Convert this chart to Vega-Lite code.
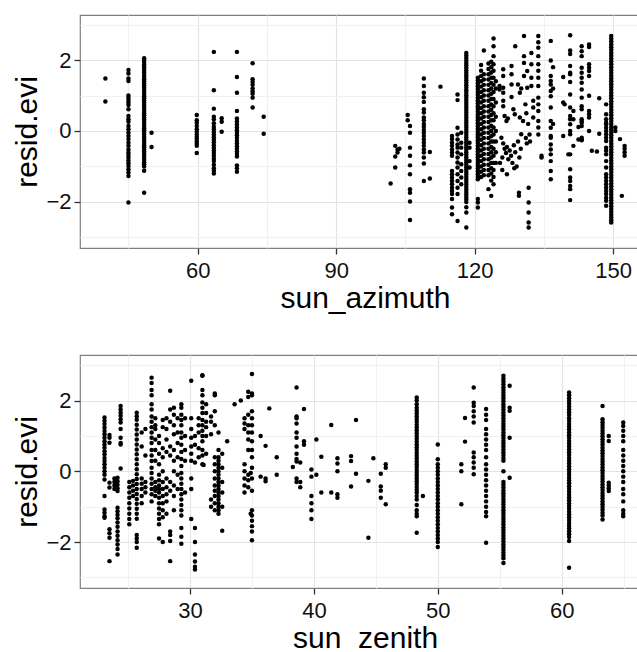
{
"$schema":"https://vega.github.io/schema/vega-lite/v6.json",
"padding":{"left":12,"top":14,"right":0,"bottom":0},
"background":"white",
"datasets":{
"top":[
{"az":40,"r":1.48},{"az":40,"r":0.83},
{"az":45,"r":1.72},{"az":45,"r":1.62},{"az":45,"r":1.48},{"az":45,"r":1.41},{"az":45,"r":1.0},{"az":45,"r":0.94},{"az":45,"r":0.87},{"az":45,"r":0.8},{"az":45,"r":0.73},{"az":45,"r":0.61},{"az":45,"r":0.42},{"az":45,"r":0.33},{"az":45,"r":0.26},{"az":45,"r":0.14},{"az":45,"r":0.05},{"az":45,"r":-0.05},{"az":45,"r":-0.14},{"az":45,"r":-0.23},{"az":45,"r":-0.33},{"az":45,"r":-0.42},{"az":45,"r":-0.52},{"az":45,"r":-0.61},{"az":45,"r":-0.68},{"az":45,"r":-0.75},{"az":45,"r":-0.83},{"az":45,"r":-0.91},{"az":45,"r":-0.99},{"az":45,"r":-1.08},{"az":45,"r":-1.17},{"az":45,"r":-1.27},{"az":45,"r":-2.02},
{"az":48.4,"r":2.05},{"az":48.4,"r":2.0},{"az":48.4,"r":1.95},{"az":48.4,"r":1.88},{"az":48.4,"r":1.82},{"az":48.4,"r":1.76},{"az":48.4,"r":1.7},{"az":48.4,"r":1.64},{"az":48.4,"r":1.58},{"az":48.4,"r":1.52},{"az":48.4,"r":1.46},{"az":48.4,"r":1.4},{"az":48.4,"r":1.34},{"az":48.4,"r":1.28},{"az":48.4,"r":1.22},{"az":48.4,"r":1.16},{"az":48.4,"r":1.1},{"az":48.4,"r":1.04},{"az":48.4,"r":0.98},{"az":48.4,"r":0.92},{"az":48.4,"r":0.86},{"az":48.4,"r":0.8},{"az":48.4,"r":0.74},{"az":48.4,"r":0.68},{"az":48.4,"r":0.62},{"az":48.4,"r":0.56},{"az":48.4,"r":0.5},{"az":48.4,"r":0.44},{"az":48.4,"r":0.38},{"az":48.4,"r":0.32},{"az":48.4,"r":0.26},{"az":48.4,"r":0.2},{"az":48.4,"r":0.14},{"az":48.4,"r":0.08},{"az":48.4,"r":0.02},{"az":48.4,"r":-0.04},{"az":48.4,"r":-0.1},{"az":48.4,"r":-0.16},{"az":48.4,"r":-0.22},{"az":48.4,"r":-0.28},{"az":48.4,"r":-0.34},{"az":48.4,"r":-0.4},{"az":48.4,"r":-0.46},{"az":48.4,"r":-0.52},{"az":48.4,"r":-0.58},{"az":48.4,"r":-0.64},{"az":48.4,"r":-0.7},{"az":48.4,"r":-0.76},{"az":48.4,"r":-0.82},{"az":48.4,"r":-0.88},{"az":48.4,"r":-0.94},{"az":48.4,"r":-1.0},{"az":48.4,"r":-1.12},{"az":48.4,"r":-1.74},
{"az":50,"r":-0.05},{"az":50,"r":-0.45},
{"az":59.8,"r":0.45},{"az":59.8,"r":0.3},{"az":59.8,"r":0.23},{"az":59.8,"r":0.14},{"az":59.8,"r":0.05},{"az":59.8,"r":-0.02},{"az":59.8,"r":-0.1},{"az":59.8,"r":-0.17},{"az":59.8,"r":-0.23},{"az":59.8,"r":-0.3},{"az":59.8,"r":-0.36},{"az":59.8,"r":-0.42},{"az":59.8,"r":-0.62},
{"az":63.5,"r":2.23},{"az":63.5,"r":1.15},{"az":63.5,"r":0.63},{"az":63.5,"r":0.4},{"az":63.5,"r":0.33},{"az":63.5,"r":0.22},{"az":63.5,"r":0.12},{"az":63.5,"r":0.05},{"az":63.5,"r":-0.03},{"az":63.5,"r":-0.1},{"az":63.5,"r":-0.18},{"az":63.5,"r":-0.25},{"az":63.5,"r":-0.32},{"az":63.5,"r":-0.4},{"az":63.5,"r":-0.48},{"az":63.5,"r":-0.55},{"az":63.5,"r":-0.62},{"az":63.5,"r":-0.7},{"az":63.5,"r":-0.78},{"az":63.5,"r":-0.85},{"az":63.5,"r":-0.95},{"az":63.5,"r":-1.05},{"az":63.5,"r":-1.12},{"az":63.5,"r":-1.2},
{"az":65.2,"r":0.36},{"az":65.2,"r":0.26},{"az":65.2,"r":-0.02},
{"az":68.5,"r":2.23},{"az":68.5,"r":1.52},{"az":68.5,"r":1.08},{"az":68.5,"r":0.56},{"az":68.5,"r":0.35},{"az":68.5,"r":0.27},{"az":68.5,"r":0.18},{"az":68.5,"r":0.1},{"az":68.5,"r":0.02},{"az":68.5,"r":-0.05},{"az":68.5,"r":-0.12},{"az":68.5,"r":-0.2},{"az":68.5,"r":-0.28},{"az":68.5,"r":-0.35},{"az":68.5,"r":-0.43},{"az":68.5,"r":-0.5},{"az":68.5,"r":-0.58},{"az":68.5,"r":-0.65},{"az":68.5,"r":-0.72},{"az":68.5,"r":-0.97},{"az":68.5,"r":-1.05},{"az":68.5,"r":-1.15},
{"az":71.9,"r":1.91},{"az":71.9,"r":1.46},{"az":71.9,"r":1.38},{"az":71.9,"r":1.3},{"az":71.9,"r":1.2},{"az":71.9,"r":1.12},{"az":71.9,"r":1.05},{"az":71.9,"r":0.94},{"az":71.9,"r":0.66},
{"az":74.3,"r":0.4},{"az":74.3,"r":-0.08},
{"az":101.8,"r":-1.48},
{"az":102.8,"r":-0.42},{"az":102.8,"r":-0.72},{"az":102.8,"r":-1.03},{"az":103.3,"r":-0.52},{"az":103.3,"r":-0.61},{"az":103.7,"r":-0.5},
{"az":105.5,"r":0.45},{"az":105.5,"r":0.3},
{"az":106,"r":0.14},{"az":106,"r":-0.05},{"az":106,"r":-0.47},{"az":106,"r":-0.7},{"az":106,"r":-0.97},{"az":106,"r":-1.22},{"az":106,"r":-1.64},{"az":106,"r":-1.74},{"az":106,"r":-1.99},{"az":106,"r":-2.51},
{"az":109,"r":1.48},{"az":109,"r":1.27},{"az":109,"r":1.08},{"az":109,"r":0.95},{"az":109,"r":0.82},{"az":109,"r":0.61},{"az":109,"r":0.52},{"az":109,"r":0.38},{"az":109,"r":0.3},{"az":109,"r":0.2},{"az":109,"r":0.12},{"az":109,"r":0.03},{"az":109,"r":-0.05},{"az":109,"r":-0.14},{"az":109,"r":-0.24},{"az":109,"r":-0.33},{"az":109,"r":-0.42},{"az":109,"r":-0.52},{"az":109,"r":-0.61},{"az":109,"r":-0.75},{"az":109,"r":-0.92},{"az":109,"r":-1.41},
{"az":110.3,"r":-0.59},{"az":110.3,"r":-1.34},
{"az":112.6,"r":1.25},
{"az":115.1,"r":-0.14},{"az":115.1,"r":-0.23},{"az":115.1,"r":-0.33},{"az":115.1,"r":-0.42},{"az":115.1,"r":-0.52},{"az":115.1,"r":-0.61},{"az":115.1,"r":-0.7},{"az":115.1,"r":-1.13},{"az":115.1,"r":-1.22},{"az":115.1,"r":-1.32},{"az":115.1,"r":-1.41},{"az":115.1,"r":-1.5},{"az":115.1,"r":-1.6},{"az":115.1,"r":-1.69},{"az":115.1,"r":-1.78},{"az":115.1,"r":-1.92},{"az":115.1,"r":-2.16},{"az":115.1,"r":-2.35},
{"az":116.3,"r":1.03},{"az":116.3,"r":0.87},{"az":116.3,"r":0.09},{"az":116.3,"r":-0.1},{"az":116.3,"r":-0.24},{"az":116.3,"r":-0.38},{"az":116.3,"r":-0.47},{"az":116.3,"r":-0.61},{"az":116.3,"r":-0.75},{"az":116.3,"r":-0.89},{"az":116.3,"r":-1.03},{"az":116.3,"r":-1.22},{"az":116.3,"r":-1.41},{"az":116.3,"r":-1.6},{"az":116.3,"r":-1.78},{"az":116.3,"r":-2.54},
{"az":117.1,"r":-0.05},{"az":117.1,"r":-0.33},{"az":117.1,"r":-0.47},{"az":117.1,"r":-0.66},{"az":117.1,"r":-0.94},{"az":117.1,"r":-1.13},{"az":117.1,"r":-1.31},{"az":117.1,"r":-1.5},
{"az":118.2,"r":2.2},{"az":118.2,"r":2.13},{"az":118.2,"r":2.06},{"az":118.2,"r":1.99},{"az":118.2,"r":1.92},{"az":118.2,"r":1.85},{"az":118.2,"r":1.78},{"az":118.2,"r":1.71},{"az":118.2,"r":1.64},{"az":118.2,"r":1.57},{"az":118.2,"r":1.5},{"az":118.2,"r":1.43},{"az":118.2,"r":1.36},{"az":118.2,"r":1.29},{"az":118.2,"r":1.22},{"az":118.2,"r":1.15},{"az":118.2,"r":1.08},{"az":118.2,"r":1.01},{"az":118.2,"r":0.94},{"az":118.2,"r":0.87},{"az":118.2,"r":0.8},{"az":118.2,"r":0.73},{"az":118.2,"r":0.66},{"az":118.2,"r":0.59},{"az":118.2,"r":0.52},{"az":118.2,"r":0.45},{"az":118.2,"r":0.38},{"az":118.2,"r":0.31},{"az":118.2,"r":0.24},{"az":118.2,"r":0.17},{"az":118.2,"r":0.1},{"az":118.2,"r":0.03},{"az":118.2,"r":-0.04},{"az":118.2,"r":-0.11},{"az":118.2,"r":-0.18},{"az":118.2,"r":-0.25},{"az":118.2,"r":-0.32},{"az":118.2,"r":-0.39},{"az":118.2,"r":-0.46},{"az":118.2,"r":-0.53},{"az":118.2,"r":-0.6},{"az":118.2,"r":-0.67},{"az":118.2,"r":-0.74},{"az":118.2,"r":-0.81},{"az":118.2,"r":-0.88},{"az":118.2,"r":-0.95},{"az":118.2,"r":-1.02},{"az":118.2,"r":-1.09},{"az":118.2,"r":-1.16},{"az":118.2,"r":-1.23},{"az":118.2,"r":-1.3},{"az":118.2,"r":-1.37},{"az":118.2,"r":-1.44},{"az":118.2,"r":-1.51},{"az":118.2,"r":-1.58},{"az":118.2,"r":-1.65},{"az":118.2,"r":-1.72},{"az":118.2,"r":-1.79},{"az":118.2,"r":-1.86},{"az":118.2,"r":-1.93},{"az":118.2,"r":-2.0},{"az":118.2,"r":-2.15},{"az":118.2,"r":-2.3},{"az":118.2,"r":-2.72},
{"az":118.9,"r":-0.33},{"az":118.9,"r":-0.47},{"az":118.9,"r":-0.85},{"az":118.9,"r":-1.03},
{"az":120.7,"r":1.5},{"az":120.7,"r":1.42},{"az":120.7,"r":1.34},{"az":120.7,"r":1.26},{"az":120.7,"r":1.18},{"az":120.7,"r":1.1},{"az":120.7,"r":1.02},{"az":120.7,"r":0.94},{"az":120.7,"r":0.86},{"az":120.7,"r":0.78},{"az":120.7,"r":0.7},{"az":120.7,"r":0.62},{"az":120.7,"r":0.54},{"az":120.7,"r":0.46},{"az":120.7,"r":0.38},{"az":120.7,"r":0.3},{"az":120.7,"r":0.22},{"az":120.7,"r":0.14},{"az":120.7,"r":0.06},{"az":120.7,"r":-0.02},{"az":120.7,"r":-0.1},{"az":120.7,"r":-0.18},{"az":120.7,"r":-0.26},{"az":120.7,"r":-0.34},{"az":120.7,"r":-0.42},{"az":120.7,"r":-0.5},{"az":120.7,"r":-0.58},{"az":120.7,"r":-0.66},{"az":120.7,"r":-0.74},{"az":120.7,"r":-0.82},{"az":120.7,"r":-0.9},{"az":120.7,"r":-0.98},{"az":120.7,"r":-1.06},{"az":120.7,"r":-1.14},{"az":120.7,"r":-1.22},{"az":120.7,"r":-1.3},{"az":120.7,"r":-1.36},{"az":120.7,"r":-1.92},{"az":120.7,"r":-2.02},{"az":120.7,"r":-2.16},
{"az":121.4,"r":1.86},{"az":121.4,"r":1.7},{"az":121.4,"r":1.55},{"az":121.4,"r":1.4},{"az":121.4,"r":1.25},{"az":121.4,"r":1.1},{"az":121.4,"r":0.95},{"az":121.4,"r":0.8},{"az":121.4,"r":0.65},{"az":121.4,"r":0.5},{"az":121.4,"r":0.35},{"az":121.4,"r":0.2},{"az":121.4,"r":0.05},{"az":121.4,"r":-0.1},{"az":121.4,"r":-0.25},{"az":121.4,"r":-0.4},{"az":121.4,"r":-0.55},{"az":121.4,"r":-0.7},{"az":121.4,"r":-0.85},{"az":121.4,"r":-1.0},{"az":121.4,"r":-1.15},{"az":121.4,"r":-1.3},
{"az":122,"r":2.27},{"az":122,"r":1.6},{"az":122,"r":1.45},{"az":122,"r":1.3},{"az":122,"r":1.15},{"az":122,"r":1.0},{"az":122,"r":0.85},{"az":122,"r":0.7},{"az":122,"r":0.55},{"az":122,"r":0.4},{"az":122,"r":0.25},{"az":122,"r":0.1},{"az":122,"r":-0.05},{"az":122,"r":-0.2},{"az":122,"r":-0.35},{"az":122,"r":-0.5},{"az":122,"r":-0.65},{"az":122,"r":-0.8},{"az":122,"r":-0.95},{"az":122,"r":-1.1},{"az":122,"r":-1.25},
{"az":123,"r":1.9},{"az":123,"r":1.75},{"az":123,"r":1.6},{"az":123,"r":1.45},{"az":123,"r":1.3},{"az":123,"r":1.15},{"az":123,"r":1.0},{"az":123,"r":0.85},{"az":123,"r":0.7},{"az":123,"r":0.55},{"az":123,"r":0.4},{"az":123,"r":0.25},{"az":123,"r":0.1},{"az":123,"r":-0.05},{"az":123,"r":-0.2},{"az":123,"r":-0.35},{"az":123,"r":-0.5},{"az":123,"r":-0.65},{"az":123,"r":-0.8},{"az":123,"r":-0.95},{"az":123,"r":-1.1},{"az":123,"r":-1.25},{"az":123,"r":-1.64},
{"az":123.6,"r":1.95},{"az":123.6,"r":1.8},{"az":123.6,"r":1.65},{"az":123.6,"r":1.5},{"az":123.6,"r":1.35},{"az":123.6,"r":1.2},{"az":123.6,"r":1.05},{"az":123.6,"r":0.9},{"az":123.6,"r":0.75},{"az":123.6,"r":0.6},{"az":123.6,"r":0.45},{"az":123.6,"r":0.3},{"az":123.6,"r":0.15},{"az":123.6,"r":0.0},{"az":123.6,"r":-0.15},{"az":123.6,"r":-0.3},{"az":123.6,"r":-0.45},{"az":123.6,"r":-0.6},{"az":123.6,"r":-0.75},{"az":123.6,"r":-0.9},{"az":123.6,"r":-1.05},{"az":123.6,"r":-1.2},{"az":123.6,"r":-1.4},{"az":123.6,"r":-1.83},
{"az":124.1,"r":2.61},{"az":124.1,"r":2.39},{"az":124.1,"r":2.11},{"az":124.1,"r":1.88},{"az":124.1,"r":1.7},{"az":124.1,"r":1.5},{"az":124.1,"r":1.3},{"az":124.1,"r":1.1},{"az":124.1,"r":0.9},{"az":124.1,"r":0.7},{"az":124.1,"r":0.5},{"az":124.1,"r":0.3},{"az":124.1,"r":0.1},{"az":124.1,"r":-0.1},{"az":124.1,"r":-0.3},{"az":124.1,"r":-0.5},{"az":124.1,"r":-0.7},{"az":124.1,"r":-0.9},{"az":124.1,"r":-1.1},{"az":124.1,"r":-1.3},{"az":124.1,"r":-1.5},
{"az":124.6,"r":1.4},{"az":124.6,"r":1.2},{"az":124.6,"r":0.8},{"az":124.6,"r":0.4},{"az":124.6,"r":0.0},{"az":124.6,"r":-0.3},{"az":124.6,"r":-0.6},{"az":124.6,"r":-0.9},
{"az":125.4,"r":1.27},{"az":125.4,"r":1.17},{"az":126.2,"r":1.74},{"az":126.2,"r":1.55},{"az":126.2,"r":1.22},{"az":126.2,"r":1.08},{"az":126.2,"r":0.85},{"az":126.2,"r":0.7},{"az":126.5,"r":0.42},{"az":126.9,"r":0.28},{"az":127.2,"r":0.35},
{"az":128,"r":1.83},{"az":128,"r":1.6},{"az":128,"r":1.31},{"az":128,"r":0.96},{"az":128.8,"r":2.39},{"az":128.4,"r":0.61},{"az":128.7,"r":0.47},{"az":129.4,"r":1.31},{"az":129.8,"r":1.08},{"az":130.1,"r":1.2},{"az":129.8,"r":0.38},{"az":130.5,"r":0.28},
{"az":130.7,"r":2.68},{"az":130.7,"r":2.11},{"az":130.7,"r":1.92},{"az":130.7,"r":1.55},{"az":131.4,"r":1.69},{"az":131.4,"r":1.22},{"az":131,"r":0.75},{"az":131.2,"r":0.5},{"az":131.6,"r":0.2},{"az":131.9,"r":-0.1},
{"az":132.3,"r":2.2},{"az":132.3,"r":1.88},{"az":132.3,"r":1.5},{"az":132.3,"r":1.27},{"az":132.7,"r":0.85},{"az":132.7,"r":0.66},{"az":132.7,"r":0.38},
{"az":133.8,"r":2.68},{"az":133.8,"r":2.5},{"az":133.8,"r":2.35},{"az":133.8,"r":2.11},{"az":133.8,"r":1.88},{"az":133.8,"r":1.7},{"az":133.8,"r":1.5},{"az":133.8,"r":1.27},{"az":133.8,"r":0.94},{"az":133.8,"r":0.75},{"az":133.8,"r":0.56},{"az":133.8,"r":0.28},{"az":133.8,"r":0.1},{"az":133.8,"r":-0.1},
{"az":125.8,"r":-0.19},{"az":126.2,"r":-0.35},{"az":126.5,"r":-0.5},{"az":126.8,"r":-0.62},{"az":127,"r":-0.45},{"az":127.3,"r":-0.8},{"az":127.6,"r":-0.55},{"az":127.9,"r":-0.7},{"az":128.2,"r":-0.9},{"az":128.5,"r":-0.4},{"az":128.8,"r":-0.6},{"az":129.1,"r":-1.0},{"az":129.4,"r":-0.3},{"az":129.7,"r":-0.75},{"az":130,"r":-0.5},{"az":126,"r":-1.1},{"az":127,"r":-1.22},{"az":128.6,"r":-1.05},{"az":125.5,"r":-0.9},{"az":126,"r":-0.75},
{"az":129.6,"r":-1.74},{"az":129.6,"r":-1.83},{"az":131.7,"r":-1.6},{"az":131.7,"r":-2.02},{"az":131.7,"r":-2.3},{"az":131.7,"r":-2.58},{"az":131.7,"r":-2.72},
{"az":130.1,"r":-0.09},{"az":131.1,"r":-0.2},{"az":131.3,"r":-0.35},{"az":132,"r":-0.3},{"az":134.5,"r":-0.7},{"az":134.5,"r":-0.75},
{"az":136.5,"r":2.54},{"az":136.5,"r":1.99},{"az":136.5,"r":1.55},{"az":136.5,"r":1.41},{"az":136.5,"r":1.31},{"az":136.5,"r":1.13},{"az":136.5,"r":0.98},{"az":136.5,"r":0.66},{"az":136.5,"r":0.28},{"az":136.5,"r":0.09},{"az":136.5,"r":-0.14},{"az":136.5,"r":-0.19},{"az":136.5,"r":-0.38},{"az":136.5,"r":-0.52},{"az":136.5,"r":-0.66},{"az":136.5,"r":-0.85},{"az":136.5,"r":-1.13},{"az":136.5,"r":-1.36},
{"az":137,"r":1.8},{"az":137,"r":1.2},{"az":137,"r":0.2},
{"az":139.2,"r":1.52},{"az":139.2,"r":0.8},{"az":139.5,"r":0.75},{"az":139.2,"r":-0.14},
{"az":140.7,"r":2.7},{"az":140.7,"r":2.27},{"az":140.7,"r":2.17},{"az":140.7,"r":1.83},{"az":140.7,"r":1.64},{"az":140.7,"r":1.6},{"az":140.7,"r":1.38},{"az":140.7,"r":1.03},{"az":140.7,"r":0.66},{"az":140.7,"r":0.42},{"az":140.7,"r":0.33},{"az":140.7,"r":0.19},{"az":140.7,"r":0.0},{"az":140.7,"r":-0.09},{"az":140.7,"r":-0.66},{"az":140.7,"r":-1.08},{"az":140.7,"r":-1.31},{"az":140.7,"r":-1.41},{"az":140.7,"r":-1.55},{"az":140.7,"r":-1.64},{"az":140.7,"r":-1.95},
{"az":141.4,"r":0.56},{"az":141.4,"r":0.33},{"az":141.4,"r":-0.42},{"az":140.3,"r":-0.66},
{"az":143.2,"r":2.39},{"az":143.2,"r":2.25},{"az":143.2,"r":2.11},{"az":143.2,"r":1.78},{"az":143.2,"r":1.64},{"az":143.2,"r":1.5},{"az":143.2,"r":1.36},{"az":143.2,"r":1.17},{"az":143.2,"r":0.94},{"az":143.2,"r":0.7},{"az":143.2,"r":0.61},{"az":143.2,"r":0.33},{"az":143.2,"r":0.28},{"az":143.2,"r":0.23},{"az":143.2,"r":0.14},{"az":143.2,"r":-0.19},{"az":143.2,"r":-0.24},{"az":143.2,"r":-0.26},
{"az":142.5,"r":0.11},{"az":142.5,"r":-0.24},
{"az":144.8,"r":2.44},{"az":144.8,"r":2.37},{"az":144.8,"r":1.88},{"az":144.8,"r":1.78},{"az":144.8,"r":1.69},{"az":144.8,"r":1.55},{"az":144.8,"r":0.99},{"az":144.8,"r":0.56},{"az":144.8,"r":0.47},{"az":144.8,"r":0.38},{"az":144.8,"r":0.0},
{"az":145.4,"r":-0.56},{"az":146.5,"r":-0.58},{"az":147,"r":0.92},{"az":147,"r":-0.08},
{"az":148.5,"r":0.75},{"az":148.5,"r":0.47},{"az":148.5,"r":0.33},{"az":148.5,"r":0.23},{"az":148.5,"r":0.19},{"az":148.5,"r":0.09},{"az":148.5,"r":0.0},{"az":148.5,"r":-0.09},{"az":148.5,"r":-0.19},{"az":148.5,"r":-0.28},{"az":148.5,"r":-0.47},{"az":148.5,"r":-0.56},{"az":148.5,"r":-0.66},{"az":148.5,"r":-0.85},{"az":148.5,"r":-1.03},{"az":148.5,"r":-1.22},{"az":148.5,"r":-1.31},{"az":148.5,"r":-1.41},{"az":148.5,"r":-1.5},{"az":148.5,"r":-1.6},{"az":148.5,"r":-1.69},{"az":148.5,"r":-1.78},{"az":148.5,"r":-1.88},{"az":148.5,"r":-1.97},{"az":148.5,"r":-2.11},
{"az":149.6,"r":2.68},{"az":149.6,"r":2.6},{"az":149.6,"r":2.52},{"az":149.6,"r":2.44},{"az":149.6,"r":2.36},{"az":149.6,"r":2.28},{"az":149.6,"r":2.2},{"az":149.6,"r":2.12},{"az":149.6,"r":2.04},{"az":149.6,"r":1.96},{"az":149.6,"r":1.88},{"az":149.6,"r":1.8},{"az":149.6,"r":1.72},{"az":149.6,"r":1.64},{"az":149.6,"r":1.56},{"az":149.6,"r":1.48},{"az":149.6,"r":1.4},{"az":149.6,"r":1.32},{"az":149.6,"r":1.24},{"az":149.6,"r":1.16},{"az":149.6,"r":1.08},{"az":149.6,"r":1.0},{"az":149.6,"r":0.92},{"az":149.6,"r":0.84},{"az":149.6,"r":0.76},{"az":149.6,"r":0.68},{"az":149.6,"r":0.6},{"az":149.6,"r":0.52},{"az":149.6,"r":0.44},{"az":149.6,"r":0.36},{"az":149.6,"r":0.28},{"az":149.6,"r":0.2},{"az":149.6,"r":0.12},{"az":149.6,"r":0.04},{"az":149.6,"r":-0.04},{"az":149.6,"r":-0.12},{"az":149.6,"r":-0.2},{"az":149.6,"r":-0.28},{"az":149.6,"r":-0.36},{"az":149.6,"r":-0.44},{"az":149.6,"r":-0.52},{"az":149.6,"r":-0.6},{"az":149.6,"r":-0.68},{"az":149.6,"r":-0.76},{"az":149.6,"r":-0.84},{"az":149.6,"r":-0.92},{"az":149.6,"r":-1.0},{"az":149.6,"r":-1.08},{"az":149.6,"r":-1.16},{"az":149.6,"r":-1.24},{"az":149.6,"r":-1.32},{"az":149.6,"r":-1.4},{"az":149.6,"r":-1.48},{"az":149.6,"r":-1.56},{"az":149.6,"r":-1.64},{"az":149.6,"r":-1.72},{"az":149.6,"r":-1.8},{"az":149.6,"r":-1.88},{"az":149.6,"r":-1.96},{"az":149.6,"r":-2.04},{"az":149.6,"r":-2.12},{"az":149.6,"r":-2.2},{"az":149.6,"r":-2.28},{"az":149.6,"r":-2.36},{"az":149.6,"r":-2.44},{"az":149.6,"r":-2.52},{"az":149.6,"r":-2.58},
{"az":150.5,"r":0.1},{"az":150.5,"r":0.0},{"az":151.5,"r":-0.23},{"az":152.5,"r":-0.42},{"az":152.5,"r":-0.5},{"az":152.5,"r":-0.6},{"az":152.5,"r":-0.7},{"az":151.9,"r":-1.83}
],
"bot":[
{"zen":23.1,"r":1.52},{"zen":23.1,"r":1.43},{"zen":23.1,"r":1.34},{"zen":23.1,"r":1.24},{"zen":23.1,"r":1.14},{"zen":23.1,"r":1.05},{"zen":23.1,"r":0.95},{"zen":23.1,"r":0.85},{"zen":23.1,"r":0.76},{"zen":23.1,"r":0.67},{"zen":23.1,"r":0.57},{"zen":23.1,"r":0.48},{"zen":23.1,"r":0.38},{"zen":23.1,"r":0.29},{"zen":23.1,"r":0.2},{"zen":23.1,"r":0.1},{"zen":23.1,"r":0.0},{"zen":23.1,"r":-0.1},{"zen":23.1,"r":-0.23},{"zen":23.1,"r":-0.7},{"zen":23.1,"r":-1.08},{"zen":23.1,"r":-1.17},{"zen":23.1,"r":-1.27},{"zen":23.1,"r":-1.31},
{"zen":23.5,"r":1.03},{"zen":23.5,"r":0.95},{"zen":23.5,"r":0.81},{"zen":23.5,"r":-0.32},{"zen":23.5,"r":-0.46},{"zen":23.5,"r":-1.64},{"zen":23.5,"r":-1.75},{"zen":23.5,"r":-1.88},{"zen":23.5,"r":-2.54},
{"zen":23.9,"r":-0.2},{"zen":23.9,"r":-0.3},{"zen":23.9,"r":-0.4},{"zen":23.9,"r":-0.5},
{"zen":24.15,"r":-0.18},{"zen":24.15,"r":-0.28},{"zen":24.15,"r":-0.38},{"zen":24.15,"r":-0.48},{"zen":24.15,"r":-0.56},{"zen":24.15,"r":-1.03},{"zen":24.15,"r":-1.13},{"zen":24.15,"r":-1.23},{"zen":24.15,"r":-1.33},{"zen":24.15,"r":-1.45},{"zen":24.15,"r":-1.57},{"zen":24.15,"r":-1.7},{"zen":24.15,"r":-1.82},{"zen":24.15,"r":-1.95},{"zen":24.15,"r":-2.07},{"zen":24.15,"r":-2.2},{"zen":24.15,"r":-2.35},
{"zen":24.4,"r":1.85},{"zen":24.4,"r":1.75},{"zen":24.4,"r":1.66},{"zen":24.4,"r":1.57},{"zen":24.4,"r":1.47},{"zen":24.4,"r":1.38},{"zen":24.4,"r":1.2},{"zen":24.4,"r":0.95},{"zen":24.4,"r":0.8},{"zen":24.4,"r":0.76},{"zen":24.4,"r":0.08},
{"zen":25.1,"r":-0.3},{"zen":25.1,"r":-0.45},{"zen":25.1,"r":-0.6},{"zen":25.1,"r":-0.75},{"zen":25.1,"r":-0.9},{"zen":25.1,"r":-1.05},{"zen":25.1,"r":-1.2},{"zen":25.1,"r":-1.35},{"zen":25.1,"r":-1.5},
{"zen":25.4,"r":-0.27},{"zen":25.4,"r":-0.4},{"zen":25.4,"r":-0.55},{"zen":25.4,"r":-0.7},
{"zen":25.7,"r":1.66},{"zen":25.7,"r":1.56},{"zen":25.7,"r":1.46},{"zen":25.7,"r":1.32},{"zen":25.7,"r":1.18},{"zen":25.7,"r":1.04},{"zen":25.7,"r":0.9},{"zen":25.7,"r":0.76},{"zen":25.7,"r":0.62},{"zen":25.7,"r":0.48},{"zen":25.7,"r":0.34},{"zen":25.7,"r":0.2},{"zen":25.7,"r":0.06},{"zen":25.7,"r":-0.08},{"zen":25.7,"r":-0.22},{"zen":25.7,"r":-0.36},{"zen":25.7,"r":-0.5},{"zen":25.7,"r":-0.64},{"zen":25.7,"r":-0.78},{"zen":25.7,"r":-0.92},{"zen":25.7,"r":-1.06},{"zen":25.7,"r":-1.2},{"zen":25.7,"r":-1.34},{"zen":25.7,"r":-1.8},{"zen":25.7,"r":-1.9},{"zen":25.7,"r":-2.0},{"zen":25.7,"r":-2.16},
{"zen":26.1,"r":1.1},{"zen":26.1,"r":0.7},{"zen":26.1,"r":-0.2},{"zen":26.1,"r":-0.35},{"zen":26.1,"r":-0.5},{"zen":26.1,"r":-0.7},{"zen":26.1,"r":-0.9},
{"zen":26.4,"r":1.2},{"zen":26.4,"r":0.45},{"zen":26.4,"r":-0.3},{"zen":26.4,"r":-0.45},{"zen":26.4,"r":-0.6},
{"zen":26.9,"r":2.65},{"zen":26.9,"r":2.5},{"zen":26.9,"r":2.3},{"zen":26.9,"r":2.15},{"zen":26.9,"r":1.9},{"zen":26.9,"r":1.75},{"zen":26.9,"r":1.55},{"zen":26.9,"r":1.4},{"zen":26.9,"r":1.25},{"zen":26.9,"r":1.1},{"zen":26.9,"r":0.95},{"zen":26.9,"r":0.8},{"zen":26.9,"r":0.6},{"zen":26.9,"r":0.45},{"zen":26.9,"r":0.29},{"zen":26.9,"r":0.1},{"zen":26.9,"r":-0.05},{"zen":26.9,"r":-0.2},{"zen":26.9,"r":-0.35},{"zen":26.9,"r":-0.5},{"zen":26.9,"r":-0.65},{"zen":26.9,"r":-0.85},
{"zen":27.2,"r":1.5},{"zen":27.2,"r":1.3},{"zen":27.2,"r":1.2},{"zen":27.2,"r":0.9},{"zen":27.2,"r":0.6},{"zen":27.2,"r":0.3},{"zen":27.2,"r":-0.3},{"zen":27.2,"r":-0.45},{"zen":27.2,"r":-0.55},{"zen":27.2,"r":-0.7},
{"zen":27.5,"r":1.0},{"zen":27.5,"r":0.8},{"zen":27.5,"r":0.5},{"zen":27.5,"r":0.2},{"zen":27.5,"r":-0.1},{"zen":27.5,"r":-0.25},{"zen":27.5,"r":-0.4},{"zen":27.5,"r":-0.5},{"zen":27.5,"r":-0.6},{"zen":27.5,"r":-0.75},{"zen":27.5,"r":-0.9},{"zen":27.5,"r":-1.05},{"zen":27.5,"r":-1.2},{"zen":27.5,"r":-1.35},{"zen":27.5,"r":-1.5},{"zen":27.5,"r":-1.9},
{"zen":27.8,"r":1.45},{"zen":27.8,"r":1.25},{"zen":27.8,"r":0.65},{"zen":27.8,"r":0.4},{"zen":27.8,"r":0.0},{"zen":27.8,"r":-0.3},{"zen":27.8,"r":-0.5},{"zen":27.8,"r":-0.7},{"zen":27.8,"r":-0.9},{"zen":27.8,"r":-1.1},{"zen":27.8,"r":-1.3},{"zen":27.8,"r":-2.0},
{"zen":28.1,"r":1.5},{"zen":28.1,"r":1.2},{"zen":28.1,"r":0.9},{"zen":28.1,"r":0.55},{"zen":28.1,"r":-0.2},{"zen":28.1,"r":-0.45},{"zen":28.1,"r":-0.65},{"zen":28.1,"r":-0.85},{"zen":28.1,"r":-1.2},
{"zen":28.4,"r":2.28},{"zen":28.4,"r":1.75},{"zen":28.4,"r":1.4},{"zen":28.4,"r":0.7},{"zen":28.4,"r":0.45},{"zen":28.4,"r":-0.3},{"zen":28.4,"r":-0.55},{"zen":28.4,"r":-1.7},{"zen":28.4,"r":-1.8},{"zen":28.4,"r":-1.97},{"zen":28.4,"r":-2.54},
{"zen":28.7,"r":1.8},{"zen":28.7,"r":1.6},{"zen":28.7,"r":1.3},{"zen":28.7,"r":1.05},{"zen":28.7,"r":0.6},{"zen":28.7,"r":0.3},{"zen":28.7,"r":0.0},{"zen":28.7,"r":-0.4},{"zen":28.7,"r":-0.7},{"zen":28.7,"r":-1.1},
{"zen":29,"r":1.5},{"zen":29,"r":1.1},{"zen":29,"r":0.8},{"zen":29,"r":0.4},{"zen":29,"r":-0.1},{"zen":29,"r":-0.5},
{"zen":29.3,"r":1.9},{"zen":29.3,"r":1.8},{"zen":29.3,"r":1.6},{"zen":29.3,"r":1.45},{"zen":29.3,"r":1.3},{"zen":29.3,"r":1.1},{"zen":29.3,"r":0.95},{"zen":29.3,"r":0.75},{"zen":29.3,"r":0.55},{"zen":29.3,"r":0.35},{"zen":29.3,"r":0.15},{"zen":29.3,"r":-0.05},{"zen":29.3,"r":-0.2},{"zen":29.3,"r":-0.35},{"zen":29.3,"r":-0.5},{"zen":29.3,"r":-0.65},{"zen":29.3,"r":-0.8},{"zen":29.3,"r":-0.95},{"zen":29.3,"r":-1.1},{"zen":29.3,"r":-1.25},{"zen":29.3,"r":-1.6},{"zen":29.3,"r":-1.85},{"zen":29.3,"r":-2.05},
{"zen":29.6,"r":1.5},{"zen":29.6,"r":1.0},{"zen":29.6,"r":0.6},{"zen":29.6,"r":0.3},{"zen":29.6,"r":-0.6},
{"zen":30.1,"r":2.56},{"zen":30.1,"r":1.5},{"zen":30.1,"r":1.2},{"zen":30.1,"r":0.95},{"zen":30.1,"r":0.7},{"zen":30.1,"r":0.5},{"zen":30.1,"r":0.3},{"zen":30.1,"r":-0.2},{"zen":30.1,"r":-0.5},{"zen":30.1,"r":-1.35},
{"zen":30.4,"r":1.0},{"zen":30.4,"r":0.75},{"zen":30.4,"r":0.25},{"zen":30.4,"r":-1.6},{"zen":30.4,"r":-2.0},{"zen":30.4,"r":-2.35},{"zen":30.4,"r":-2.55},{"zen":30.4,"r":-2.7},{"zen":30.4,"r":-2.78},
{"zen":30.7,"r":1.5},{"zen":30.7,"r":1.3},{"zen":30.7,"r":1.1},{"zen":30.7,"r":0.65},{"zen":30.7,"r":0.4},
{"zen":31,"r":2.72},{"zen":31,"r":2.7},{"zen":31,"r":2.3},{"zen":31,"r":2.15},{"zen":31,"r":1.95},{"zen":31,"r":1.8},{"zen":31,"r":1.65},{"zen":31,"r":1.45},{"zen":31,"r":1.3},{"zen":31,"r":1.15},{"zen":31,"r":1.0},{"zen":31,"r":0.85},{"zen":31,"r":0.6},{"zen":31,"r":0.45},{"zen":31,"r":0.2},{"zen":31.1,"r":0.18},
{"zen":31.3,"r":1.9},{"zen":31.3,"r":1.65},{"zen":31.3,"r":1.4},{"zen":31.3,"r":1.25},{"zen":31.3,"r":1.0},{"zen":31.3,"r":0.5},
{"zen":31.7,"r":1.55},{"zen":31.7,"r":1.4},{"zen":31.7,"r":1.05},{"zen":31.7,"r":-0.8},{"zen":31.7,"r":-1.0},
{"zen":32,"r":2.2},{"zen":32,"r":2.15},{"zen":32,"r":1.7},{"zen":32,"r":1.3},{"zen":32,"r":0.4},{"zen":32,"r":0.2},{"zen":32,"r":0.0},{"zen":32,"r":-0.2},{"zen":32,"r":-0.4},{"zen":32,"r":-0.55},{"zen":32,"r":-0.7},{"zen":32,"r":-0.9},{"zen":32,"r":-1.1},
{"zen":32.3,"r":1.1},{"zen":32.3,"r":0.6},{"zen":32.3,"r":0.4},{"zen":32.3,"r":0.3},{"zen":32.3,"r":0.2},{"zen":32.3,"r":0.1},{"zen":32.3,"r":0.0},{"zen":32.3,"r":-0.1},{"zen":32.3,"r":-0.2},{"zen":32.3,"r":-0.3},{"zen":32.3,"r":-0.4},{"zen":32.3,"r":-0.5},{"zen":32.3,"r":-0.6},{"zen":32.3,"r":-0.7},{"zen":32.3,"r":-0.8},{"zen":32.3,"r":-0.9},{"zen":32.3,"r":-1.0},{"zen":32.3,"r":-1.1},{"zen":32.3,"r":-1.2},
{"zen":32.6,"r":0.5},{"zen":32.6,"r":0.1},{"zen":32.6,"r":-0.3},{"zen":32.6,"r":-0.6},{"zen":32.6,"r":-1.0},{"zen":32.6,"r":-1.68},
{"zen":33,"r":0.85},{"zen":33.6,"r":1.9},{"zen":34.1,"r":2.0},
{"zen":34.4,"r":1.5},{"zen":34.4,"r":1.35},{"zen":34.4,"r":1.2},{"zen":34.4,"r":0.2},{"zen":34.4,"r":0.0},{"zen":34.4,"r":-0.2},{"zen":34.4,"r":-0.4},{"zen":34.4,"r":-0.6},
{"zen":34.7,"r":2.25},{"zen":34.7,"r":2.1},{"zen":34.7,"r":1.6},{"zen":34.7,"r":1.3},{"zen":34.7,"r":1.1},{"zen":34.7,"r":0.9},{"zen":34.7,"r":0.6},{"zen":34.7,"r":-0.1},{"zen":34.7,"r":-0.25},{"zen":34.7,"r":-0.45},
{"zen":35,"r":2.75},{"zen":35,"r":2.2},{"zen":35,"r":2.15},{"zen":35,"r":1.7},{"zen":35,"r":1.5},{"zen":35,"r":1.3},{"zen":35,"r":1.1},{"zen":35,"r":0.85},{"zen":35,"r":0.6},{"zen":35,"r":0.4},{"zen":35,"r":0.1},{"zen":35,"r":-0.2},{"zen":35,"r":-0.55},{"zen":35,"r":-1.1},{"zen":35,"r":-1.25},{"zen":35,"r":-1.4},{"zen":35,"r":-1.55},{"zen":35,"r":-1.7},{"zen":35,"r":-1.95},
{"zen":34.9,"r":-1.2},{"zen":34.9,"r":-0.05},
{"zen":35.7,"r":1.0},{"zen":35.7,"r":-0.15},{"zen":36.1,"r":0.72},{"zen":36.1,"r":-0.2},{"zen":36.1,"r":-0.28},{"zen":36.4,"r":1.78},{"zen":37,"r":0.4},{"zen":37,"r":-0.1},{"zen":38.3,"r":0.12},
{"zen":38.6,"r":2.37},{"zen":38.6,"r":1.55},{"zen":38.6,"r":1.5},{"zen":38.6,"r":1.35},{"zen":38.6,"r":1.1},{"zen":38.6,"r":0.95},{"zen":38.6,"r":0.7},{"zen":38.6,"r":0.5},{"zen":38.6,"r":0.35},{"zen":38.6,"r":0.28},{"zen":38.6,"r":-0.2},{"zen":38.6,"r":-0.3},
{"zen":38.9,"r":0.25},{"zen":38.9,"r":-0.3},{"zen":38.9,"r":-0.45},
{"zen":39.2,"r":1.76},{"zen":39.2,"r":0.85},{"zen":39.2,"r":0.75},
{"zen":39.8,"r":0.05},{"zen":39.8,"r":-0.15},{"zen":39.8,"r":-0.7},{"zen":39.8,"r":-0.9},{"zen":39.8,"r":-1.1},{"zen":39.8,"r":-1.35},
{"zen":40.2,"r":0.9},{"zen":40.2,"r":-0.1},{"zen":40.6,"r":0.41},{"zen":40.6,"r":-0.6},{"zen":41.4,"r":1.31},{"zen":41.4,"r":-0.6},
{"zen":41.9,"r":0.37},{"zen":41.9,"r":0.22},{"zen":41.9,"r":0.0},{"zen":41.9,"r":-0.65},{"zen":41.9,"r":-0.75},
{"zen":43,"r":0.43},{"zen":43,"r":0.29},{"zen":43,"r":-0.43},{"zen":43.4,"r":1.45},{"zen":43.4,"r":-0.07},
{"zen":44.4,"r":-0.27},{"zen":44.4,"r":-1.88},{"zen":44.8,"r":0.37},
{"zen":45.4,"r":-0.07},{"zen":45.4,"r":-0.43},{"zen":45.4,"r":-0.55},{"zen":45.4,"r":-0.75},
{"zen":45.8,"r":0.2},{"zen":45.8,"r":0.1},{"zen":45.8,"r":-0.93},
{"zen":48.3,"r":2.09},{"zen":48.3,"r":2.0},{"zen":48.3,"r":1.9},{"zen":48.3,"r":1.8},{"zen":48.3,"r":1.72},{"zen":48.3,"r":1.64},{"zen":48.3,"r":1.56},{"zen":48.3,"r":1.48},{"zen":48.3,"r":1.4},{"zen":48.3,"r":1.32},{"zen":48.3,"r":1.24},{"zen":48.3,"r":1.16},{"zen":48.3,"r":1.08},{"zen":48.3,"r":1.0},{"zen":48.3,"r":0.92},{"zen":48.3,"r":0.84},{"zen":48.3,"r":0.76},{"zen":48.3,"r":0.68},{"zen":48.3,"r":0.6},{"zen":48.3,"r":0.52},{"zen":48.3,"r":0.44},{"zen":48.3,"r":0.36},{"zen":48.3,"r":0.28},{"zen":48.3,"r":0.2},{"zen":48.3,"r":0.12},{"zen":48.3,"r":0.04},{"zen":48.3,"r":-0.04},{"zen":48.3,"r":-0.12},{"zen":48.3,"r":-0.2},{"zen":48.3,"r":-0.28},{"zen":48.3,"r":-0.36},{"zen":48.3,"r":-0.44},{"zen":48.3,"r":-0.52},{"zen":48.3,"r":-0.6},{"zen":48.3,"r":-0.7},{"zen":48.3,"r":-0.8},{"zen":48.3,"r":-0.95},{"zen":48.3,"r":-1.1},{"zen":48.3,"r":-1.2},{"zen":48.3,"r":-1.27},{"zen":48.3,"r":-1.74},
{"zen":48.8,"r":-0.7},
{"zen":50,"r":0.76},{"zen":50,"r":0.34},{"zen":50,"r":0.2},{"zen":50,"r":0.1},{"zen":50,"r":0.0},{"zen":50,"r":-0.1},{"zen":50,"r":-0.2},{"zen":50,"r":-0.3},{"zen":50,"r":-0.4},{"zen":50,"r":-0.5},{"zen":50,"r":-0.6},{"zen":50,"r":-0.7},{"zen":50,"r":-0.8},{"zen":50,"r":-0.9},{"zen":50,"r":-1.0},{"zen":50,"r":-1.1},{"zen":50,"r":-1.2},{"zen":50,"r":-1.3},{"zen":50,"r":-1.4},{"zen":50,"r":-1.5},{"zen":50,"r":-1.6},{"zen":50,"r":-1.7},{"zen":50,"r":-1.8},{"zen":50,"r":-1.9},{"zen":50,"r":-2.0},{"zen":50,"r":-2.14},
{"zen":51.9,"r":0.2},{"zen":51.9,"r":0.0},{"zen":51.9,"r":-0.93},{"zen":52.2,"r":1.51},{"zen":52.2,"r":0.84},
{"zen":52.9,"r":2.37},{"zen":52.9,"r":1.94},{"zen":52.9,"r":1.85},{"zen":52.9,"r":1.7},{"zen":52.9,"r":1.55},{"zen":52.9,"r":1.38},{"zen":52.9,"r":0.53},{"zen":52.9,"r":0.4},{"zen":52.9,"r":0.25},{"zen":52.9,"r":0.1},{"zen":52.9,"r":-0.08},
{"zen":53.9,"r":1.76},{"zen":53.9,"r":1.6},{"zen":53.9,"r":1.45},{"zen":53.9,"r":1.2},{"zen":53.9,"r":1.05},{"zen":53.9,"r":0.9},{"zen":53.9,"r":0.75},{"zen":53.9,"r":0.6},{"zen":53.9,"r":0.4},{"zen":53.9,"r":0.2},{"zen":53.9,"r":0.05},{"zen":53.9,"r":-0.1},{"zen":53.9,"r":-0.25},{"zen":53.9,"r":-0.4},{"zen":53.9,"r":-0.55},{"zen":53.9,"r":-0.7},{"zen":53.9,"r":-0.85},{"zen":53.9,"r":-1.0},{"zen":53.9,"r":-1.15},{"zen":53.9,"r":-1.27},{"zen":53.9,"r":-2.02},
{"zen":55.3,"r":2.7},{"zen":55.3,"r":2.62},{"zen":55.3,"r":2.54},{"zen":55.3,"r":2.46},{"zen":55.3,"r":2.38},{"zen":55.3,"r":2.3},{"zen":55.3,"r":2.22},{"zen":55.3,"r":2.14},{"zen":55.3,"r":2.06},{"zen":55.3,"r":1.98},{"zen":55.3,"r":1.9},{"zen":55.3,"r":1.82},{"zen":55.3,"r":1.74},{"zen":55.3,"r":1.66},{"zen":55.3,"r":1.58},{"zen":55.3,"r":1.5},{"zen":55.3,"r":1.42},{"zen":55.3,"r":1.34},{"zen":55.3,"r":1.26},{"zen":55.3,"r":1.18},{"zen":55.3,"r":1.1},{"zen":55.3,"r":1.02},{"zen":55.3,"r":0.94},{"zen":55.3,"r":0.86},{"zen":55.3,"r":0.78},{"zen":55.3,"r":0.7},{"zen":55.3,"r":0.62},{"zen":55.3,"r":0.54},{"zen":55.3,"r":0.46},{"zen":55.3,"r":0.38},{"zen":55.3,"r":0.3},{"zen":55.3,"r":0.0},{"zen":55.3,"r":-0.3},{"zen":55.3,"r":-0.38},{"zen":55.3,"r":-0.46},{"zen":55.3,"r":-0.54},{"zen":55.3,"r":-0.62},{"zen":55.3,"r":-0.7},{"zen":55.3,"r":-0.78},{"zen":55.3,"r":-0.86},{"zen":55.3,"r":-0.94},{"zen":55.3,"r":-1.02},{"zen":55.3,"r":-1.1},{"zen":55.3,"r":-1.18},{"zen":55.3,"r":-1.26},{"zen":55.3,"r":-1.34},{"zen":55.3,"r":-1.42},{"zen":55.3,"r":-1.5},{"zen":55.3,"r":-1.58},{"zen":55.3,"r":-1.66},{"zen":55.3,"r":-1.74},{"zen":55.3,"r":-1.82},{"zen":55.3,"r":-1.9},{"zen":55.3,"r":-1.98},{"zen":55.3,"r":-2.06},{"zen":55.3,"r":-2.14},{"zen":55.3,"r":-2.22},{"zen":55.3,"r":-2.3},{"zen":55.3,"r":-2.38},{"zen":55.3,"r":-2.46},{"zen":55.3,"r":-2.59},
{"zen":55.8,"r":2.42},{"zen":55.8,"r":1.8},{"zen":55.8,"r":1.71},{"zen":55.8,"r":0.95},{"zen":55.8,"r":-0.18},
{"zen":60.6,"r":2.23},{"zen":60.6,"r":2.15},{"zen":60.6,"r":2.07},{"zen":60.6,"r":1.99},{"zen":60.6,"r":1.91},{"zen":60.6,"r":1.83},{"zen":60.6,"r":1.75},{"zen":60.6,"r":1.67},{"zen":60.6,"r":1.59},{"zen":60.6,"r":1.5},{"zen":60.6,"r":1.42},{"zen":60.6,"r":1.34},{"zen":60.6,"r":1.26},{"zen":60.6,"r":1.18},{"zen":60.6,"r":1.1},{"zen":60.6,"r":1.02},{"zen":60.6,"r":0.94},{"zen":60.6,"r":0.86},{"zen":60.6,"r":0.78},{"zen":60.6,"r":0.7},{"zen":60.6,"r":0.62},{"zen":60.6,"r":0.54},{"zen":60.6,"r":0.46},{"zen":60.6,"r":0.38},{"zen":60.6,"r":0.3},{"zen":60.6,"r":0.22},{"zen":60.6,"r":0.14},{"zen":60.6,"r":0.06},{"zen":60.6,"r":-0.02},{"zen":60.6,"r":-0.1},{"zen":60.6,"r":-0.18},{"zen":60.6,"r":-0.26},{"zen":60.6,"r":-0.34},{"zen":60.6,"r":-0.42},{"zen":60.6,"r":-0.5},{"zen":60.6,"r":-0.58},{"zen":60.6,"r":-0.66},{"zen":60.6,"r":-0.74},{"zen":60.6,"r":-0.82},{"zen":60.6,"r":-0.9},{"zen":60.6,"r":-0.98},{"zen":60.6,"r":-1.06},{"zen":60.6,"r":-1.14},{"zen":60.6,"r":-1.22},{"zen":60.6,"r":-1.3},{"zen":60.6,"r":-1.38},{"zen":60.6,"r":-1.46},{"zen":60.6,"r":-1.54},{"zen":60.6,"r":-1.62},{"zen":60.6,"r":-1.7},{"zen":60.6,"r":-1.78},{"zen":60.6,"r":-1.86},{"zen":60.6,"r":-1.97},{"zen":60.6,"r":-2.73},
{"zen":63.3,"r":1.85},{"zen":63.3,"r":1.47},{"zen":63.3,"r":1.39},{"zen":63.3,"r":1.31},{"zen":63.3,"r":1.23},{"zen":63.3,"r":1.15},{"zen":63.3,"r":1.07},{"zen":63.3,"r":0.99},{"zen":63.3,"r":0.91},{"zen":63.3,"r":0.83},{"zen":63.3,"r":0.75},{"zen":63.3,"r":0.67},{"zen":63.3,"r":0.59},{"zen":63.3,"r":0.51},{"zen":63.3,"r":0.43},{"zen":63.3,"r":0.35},{"zen":63.3,"r":0.27},{"zen":63.3,"r":0.19},{"zen":63.3,"r":0.11},{"zen":63.3,"r":0.03},{"zen":63.3,"r":-0.05},{"zen":63.3,"r":-0.13},{"zen":63.3,"r":-0.21},{"zen":63.3,"r":-0.29},{"zen":63.3,"r":-0.37},{"zen":63.3,"r":-0.45},{"zen":63.3,"r":-0.53},{"zen":63.3,"r":-0.61},{"zen":63.3,"r":-0.69},{"zen":63.3,"r":-0.77},{"zen":63.3,"r":-0.85},{"zen":63.3,"r":-0.93},{"zen":63.3,"r":-1.01},{"zen":63.3,"r":-1.09},{"zen":63.3,"r":-1.17},{"zen":63.3,"r":-1.25},{"zen":63.3,"r":-1.36},
{"zen":63.8,"r":1.0},{"zen":63.8,"r":0.86},{"zen":63.8,"r":-0.32},{"zen":63.8,"r":-0.4},{"zen":63.8,"r":-0.48},{"zen":63.8,"r":-0.56},
{"zen":64.97,"r":1.38},{"zen":64.97,"r":1.28},{"zen":64.97,"r":1.15},{"zen":64.97,"r":1.0},{"zen":64.97,"r":0.85},{"zen":64.97,"r":0.6},{"zen":64.97,"r":0.45},{"zen":64.97,"r":0.3},{"zen":64.97,"r":0.15},{"zen":64.97,"r":0.0},{"zen":64.97,"r":-0.15},{"zen":64.97,"r":-0.3},{"zen":64.97,"r":-0.5},{"zen":64.97,"r":-0.65},{"zen":64.97,"r":-0.85},{"zen":64.97,"r":-1.1},{"zen":64.97,"r":-1.2},{"zen":64.97,"r":-1.27}
]
},
"vconcat":[
{
"width":570,"height":233,
"data":{"name":"top"},
"mark":{"type":"circle","size":20,"color":"black","opacity":1},
"encoding":{
"x":{"field":"az","type":"quantitative","title":"sun_azimuth","scale":{"domain":[34.5,158.0],"nice":false,"zero":false},
"axis":{"values":[45,60,75,90,105,120,135,150],"labelExpr":"datum.value % 30 === 0 ? datum.label : ''",
"tickOpacity":{"condition":{"test":"datum.value % 30 === 0","value":1},"value":0},
"gridColor":{"condition":{"test":"datum.value % 30 === 0","value":"#E3E3E3"},"value":"#F1F1F1"}}},
"y":{"field":"r","type":"quantitative","title":"resid.evi","scale":{"domain":[-3.3,3.27],"nice":false,"zero":false},
"axis":{"values":[-3,-2,-1,0,1,2,3],"labelExpr":"datum.value % 2 === 0 ? datum.label : ''",
"tickOpacity":{"condition":{"test":"datum.value % 2 === 0","value":1},"value":0},
"gridColor":{"condition":{"test":"datum.value % 2 === 0","value":"#E3E3E3"},"value":"#F1F1F1"}}}
}
},
{
"width":570,"height":233,
"data":{"name":"bot"},
"mark":{"type":"circle","size":20,"color":"black","opacity":1},
"encoding":{
"x":{"field":"zen","type":"quantitative","title":"sun_zenith","scale":{"domain":[21.12,67.13],"nice":false,"zero":false},
"axis":{"values":[25,30,35,40,45,50,55,60,65],"labelExpr":"datum.value % 10 === 0 ? datum.label : ''",
"tickOpacity":{"condition":{"test":"datum.value % 10 === 0","value":1},"value":0},
"gridColor":{"condition":{"test":"datum.value % 10 === 0","value":"#E3E3E3"},"value":"#F1F1F1"}}},
"y":{"field":"r","type":"quantitative","title":"resid.evi","scale":{"domain":[-3.3,3.29],"nice":false,"zero":false},
"axis":{"values":[-3,-2,-1,0,1,2,3],"labelExpr":"datum.value % 2 === 0 ? datum.label : ''",
"tickOpacity":{"condition":{"test":"datum.value % 2 === 0","value":1},"value":0},
"gridColor":{"condition":{"test":"datum.value % 2 === 0","value":"#E3E3E3"},"value":"#F1F1F1"}}}
}
}
],
"spacing":40,
"config":{
"view":{"stroke":"#808080","strokeWidth":1.2},
"axis":{"domain":false,"tickColor":"#333333","tickSize":6,"tickWidth":1.3,"gridWidth":1.2,
"labelFont":"Liberation Sans","labelFontSize":22,"labelColor":"#111111",
"titleFont":"Liberation Sans","titleFontSize":30,"titleFontWeight":"normal","titleColor":"#000000"},
"axisX":{"labelPadding":6,"titlePadding":2},
"axisY":{"labelPadding":3,"titlePadding":3}
}
}
